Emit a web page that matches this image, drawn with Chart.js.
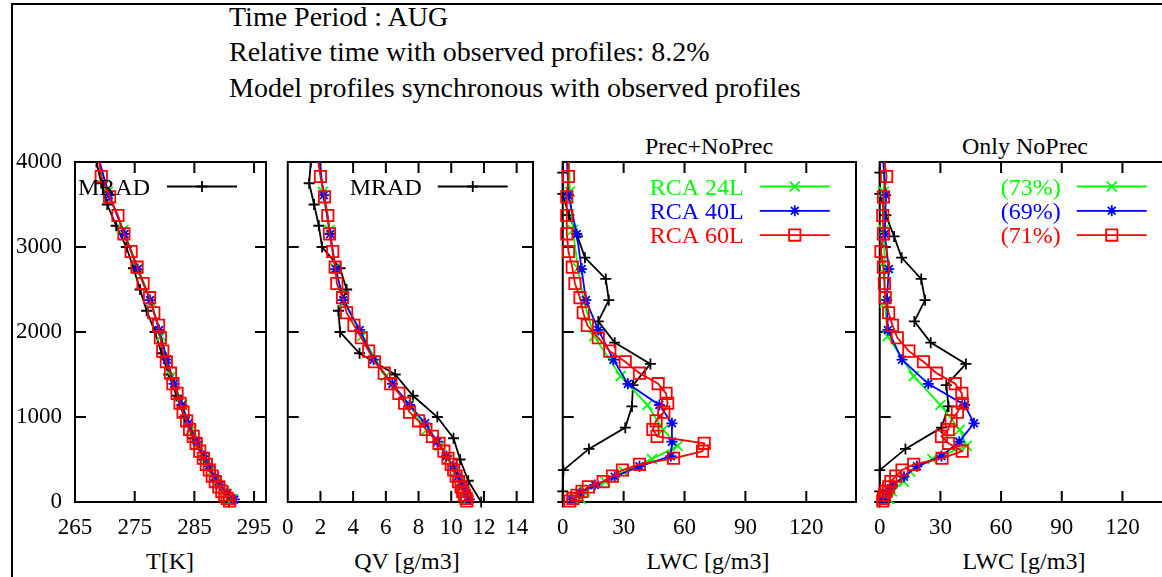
<!DOCTYPE html>
<html>
<head>
<meta charset="utf-8">
<title>Profiles AUG</title>
<script src="https://cdn.jsdelivr.net/npm/chart.js@4.4.1/dist/chart.umd.min.js"></script>
<style>
  body { margin: 0; width: 1162px; height: 577px; overflow: hidden; position: relative; background: #fff;
         font-family: "Liberation Serif", "Times New Roman", serif; color: #000; }
  #frame { position: absolute; left: 11px; top: 3px; width: 1200px; height: 620px;
           border-left: 2px solid #000; border-top: 2px solid #000; }
  .txt { position: absolute; white-space: nowrap; line-height: 1; }
  .hdr { left: 229px; font-size: 28px; }
  .ptitle, .xtitle { font-size: 24px; width: 300px; text-align: center; }
  canvas { position: absolute; top: 0; }
</style>
</head>
<body>
<div id="frame"></div>
<div class="txt hdr" style="top:3px">Time Period : AUG</div>
<div class="txt hdr" style="top:38px">Relative time with observed profiles: 8.2%</div>
<div class="txt hdr" style="top:74px">Model profiles synchronous with observed profiles</div>
<div class="txt ptitle" style="left:559px;top:134px">Prec+NoPrec</div>
<div class="txt ptitle" style="left:875px;top:134px">Only NoPrec</div>
<div class="txt xtitle" style="left:20px;top:549px">T[K]</div>
<div class="txt xtitle" style="left:257px;top:549px">QV [g/m3]</div>
<div class="txt xtitle" style="left:558px;top:549px">LWC [g/m3]</div>
<div class="txt xtitle" style="left:874px;top:549px">LWC [g/m3]</div>

<canvas id="p1" width="290" height="577" style="left:0px"></canvas>
<canvas id="p2" width="275" height="577" style="left:270px"></canvas>
<canvas id="p3" width="330" height="577" style="left:545px"></canvas>
<canvas id="p4" width="330" height="577" style="left:862px"></canvas>

<script>
// heights of the profile levels (m)
const mradHeights = [4000, 3750, 3500, 3250, 3000, 2750, 2500, 2250, 2000, 1750, 1500, 1250, 1000, 750, 500, 250, 0];
const mradLwcHeights = [4125, 3875, 3625, 3375, 3125, 2875, 2625, 2375, 2125, 1875, 1625, 1375, 1125, 875, 625, 375, 125, 0];
const rca24Heights = [4150, 3650, 3200, 2750, 2350, 1950, 1480, 1141, 850, 660, 505, 357, 239, 125, 35];
const rca40Heights = [4060, 3610, 3153, 2740, 2376, 2024, 1675, 1390, 1141, 926, 710, 540, 420, 298, 200, 105, 30];
const rca60Heights = [4080, 3830, 3590, 3370, 3155, 2947, 2763, 2571, 2404, 2227, 2078, 1932, 1775, 1650, 1516, 1392, 1278,
                      1161, 1057, 955, 853, 772, 690, 598, 514, 443, 376, 305, 240, 178, 125, 80, 42, 12];

// temperature T[K]
const mradT = [268.6, 269.4, 270.4, 271.9, 273.6, 274.8, 275.9, 277.0, 278.4, 279.5, 280.7, 282.0, 283.3, 284.8, 286.6, 288.6, 290.8];
const rca24T = [268.4, 270.5, 273.1, 275.6, 277.8, 279.4, 281.2, 283.0, 284.5, 285.6, 286.7, 287.8, 288.8, 290.0, 291.4];
const rca40T = [268.9, 270.7, 273.3, 275.5, 277.6, 279.1, 280.4, 281.6, 282.9, 284.0, 285.4, 286.6, 287.4, 288.4, 289.3, 290.5, 291.7];
const rca60T = [268.9, 269.4, 270.8, 272.2, 273.2, 274.4, 275.4, 276.4, 277.5, 278.2, 279.0, 279.3, 279.7, 280.3, 281.0, 281.4, 282.1,
                282.6, 283.1, 283.7, 284.2, 284.8, 285.3, 285.9, 286.5, 287.0, 287.5, 288.0, 288.5, 289.1, 289.6, 290.1, 290.5, 290.9];

// specific humidity QV [g/m3]
const mradQV = [1.41, 1.31, 1.61, 1.90, 2.10, 3.20, 3.60, 3.10, 3.20, 4.39, 6.57, 7.66, 9.15, 10.14, 10.54, 11.04, 11.83];
const rca24QV = [1.8, 2.15, 2.55, 2.9, 3.45, 4.55, 6.0, 7.4, 8.5, 9.3, 9.8, 10.25, 10.55, 10.85, 11.05];
const rca40QV = [1.9, 2.2, 2.6, 2.93, 3.4, 4.4, 5.25, 6.4, 7.45, 8.4, 9.15, 9.7, 10.1, 10.4, 10.7, 10.95, 11.1];
const rca60QV = [1.8, 2.0, 2.25, 2.45, 2.55, 2.75, 2.9, 3.0, 3.35, 3.6, 4.05, 4.5, 4.95, 5.3, 5.9, 6.3, 6.8,
                 7.15, 7.45, 8.0, 8.45, 8.85, 9.25, 9.55, 9.8, 10.0, 10.15, 10.3, 10.45, 10.6, 10.7, 10.8, 10.9, 10.95];

// liquid water content, precipitating + non precipitating cases
const mradLwcAll = [0, 0, 0, 3, 7.3, 10.9, 21.2, 22.7, 17.5, 25.6, 43.2, 34.6, 34.1, 30.8, 12.9, 0.3, 0, 0];
const rca24LwcAll = [3, 3.5, 5, 7.5, 10.5, 15.5, 28.5, 41.7, 49.5, 56.6, 44, 30, 21, 11, 9];
const rca40LwcAll = [2, 2.8, 6.9, 9.3, 11.4, 17.5, 25, 32.1, 47.6, 53.8, 53.8, 53.3, 37.8, 25.6, 15.8, 8.5, 4.4];
const rca60LwcAll = [3, 2.8, 2.0, 2.0, 2.0, 2.8, 4.7, 6.0, 8.5, 10.1, 12.1, 17.5, 23.2, 30.8, 37.8, 47.0, 50.9,
                     51.7, 49.8, 46.0, 44.4, 46.5, 69.7, 68.9, 54.6, 37.8, 29.4, 24.5, 19.9, 12.6, 9.5, 7.0, 5.0, 3.5];

// liquid water content, only non precipitating cases
const mradLwcNoPrec = [0, 0, 0, 3, 7.1, 10.8, 20.5, 22.4, 17.1, 25.2, 42.6, 32.9, 34.0, 30.5, 12.7, 0, 0, 0];
const rca24LwcNoPrec = [2, 2, 2, 2.5, 2.5, 3.9, 16.8, 30, 39.5, 43, 26, 15, 11.9, 6, 4.5];
const rca40LwcNoPrec = [1.5, 3, 2.5, 4.5, 3.5, 4, 11, 24, 42, 46.6, 39.3, 30.5, 18.4, 12, 6.3, 3.1, 1.6];
const rca60LwcNoPrec = [2, 3.4, 1.8, 1.5, 1.8, 0.6, 1.8, 2.3, 2.7, 4.4, 6.3, 8.7, 14.4, 21.6, 28.1, 37.3, 40.6,
                        40.8, 38.4, 35.3, 33.9, 30.5, 34.0, 40.8, 30.8, 16.8, 11.0, 7.9, 5.5, 4.4, 3.1, 2.3, 1.8, 1.5];

// tick labels
const heightTicks = [0, 1000, 2000, 3000, 4000];
const tTicks = [265, 275, 285, 295];
const qvTicks = [0, 2, 4, 6, 8, 10, 12, 14];
const lwcTicks = [0, 30, 60, 90, 120];

// legend texts
const allLabels = ['RCA 24L', 'RCA 40L', 'RCA 60L'];
const noPrecLabels = ['(73%)', '(69%)', '(71%)'];

Chart.defaults.font.family = '"Liberation Serif", "Times New Roman", serif';
Chart.defaults.color = '#000';

const seriesStyle = {
    mrad: { color: '#000000', pointStyle: 'cross', pointRadius: 5.5 },
    rca24: { color: '#00ff00', pointStyle: 'crossRot', pointRadius: 7 },
    rca40: { color: '#0000ff', pointStyle: 'star', pointRadius: 5.5 },
    rca60: { color: '#ff0000', pointStyle: 'rect', pointRadius: 8 }
};

const TICK = 11;
const LINE_W = 1.8;

// Build a vertical profile dataset (x = quantity, y = height)
function profile(key, values, heights) {
    const st = seriesStyle[key];
    return {
        label: key,
        data: heights.map((h, i) => ({ x: values[i], y: h })),
        showLine: true,
        fill: false,
        tension: 0,
        borderColor: st.color,
        borderWidth: LINE_W,
        pointStyle: st.pointStyle,
        pointRadius: st.pointRadius,
        pointHoverRadius: st.pointRadius,
        pointBorderColor: st.color,
        pointBorderWidth: LINE_W,
        pointBackgroundColor: 'rgba(0,0,0,0)',
        clip: { left: 8, top: 0, right: 0, bottom: 8 }
    };
}

function drawMark(ctx, style, x, y, r) {
    const d = r * Math.SQRT1_2;
    ctx.beginPath();
    if (style === 'cross' || style === 'star') {
        ctx.moveTo(x - r, y); ctx.lineTo(x + r, y);
        ctx.moveTo(x, y - r); ctx.lineTo(x, y + r);
    }
    if (style === 'crossRot' || style === 'star') {
        ctx.moveTo(x - d, y - d); ctx.lineTo(x + d, y + d);
        ctx.moveTo(x - d, y + d); ctx.lineTo(x + d, y - d);
    }
    if (style === 'rect') {
        ctx.rect(x - d, y - d, 2 * d, 2 * d);
    }
    ctx.stroke();
}

// gnuplot-like border with inward ticks on all four sides
const frameTicks = {
    id: 'frameTicks',
    beforeDatasetsDraw(chart) {
        const { ctx, chartArea: a, scales } = chart;
        ctx.save();
        ctx.strokeStyle = '#000';
        ctx.lineWidth = 2;
        ctx.beginPath();
        scales.x.ticks.forEach(t => {
            const p = scales.x.getPixelForValue(t.value);
            ctx.moveTo(p, a.bottom); ctx.lineTo(p, a.bottom - TICK);
            ctx.moveTo(p, a.top); ctx.lineTo(p, a.top + TICK);
        });
        scales.y.ticks.forEach(t => {
            const p = scales.y.getPixelForValue(t.value);
            ctx.moveTo(a.left, p); ctx.lineTo(a.left + TICK, p);
            ctx.moveTo(a.right, p); ctx.lineTo(a.right - TICK, p);
        });
        ctx.rect(a.left, a.top, a.right - a.left, a.bottom - a.top);
        ctx.stroke();
        ctx.restore();
    }
};

// legend drawn inside the plot: text, then a line sample with its marker
function makeLegend(entries, layout) {
    return {
        id: 'profileLegend',
        afterDatasetsDraw(chart) {
            const { ctx, chartArea: a } = chart;
            ctx.save();
            ctx.font = '24px "Liberation Serif", serif';
            ctx.textBaseline = 'alphabetic';
            ctx.textAlign = layout.align;
            entries.forEach((e, i) => {
                const st = seriesStyle[e.key];
                const y = a.top + layout.y0 + i * layout.dy;
                ctx.fillStyle = layout.colored ? st.color : '#000';
                ctx.fillText(e.text, a.left + layout.textX, y + 8);
                ctx.strokeStyle = st.color;
                ctx.lineWidth = LINE_W;
                ctx.beginPath();
                ctx.moveTo(a.left + layout.x0, y);
                ctx.lineTo(a.left + layout.x1, y);
                ctx.stroke();
                drawMark(ctx, st.pointStyle, a.left + (layout.x0 + layout.x1) / 2, y, st.pointRadius);
            });
            ctx.restore();
        }
    };
}

function makePanel(cfg) {
    const canvas = document.getElementById(cfg.id);
    const areaLeftInCanvas = cfg.areaLeft - cfg.left;
    const rightPad = canvas.width - (cfg.areaRight - cfg.left);
    return new Chart(canvas, {
        type: 'scatter',
        data: { datasets: cfg.datasets },
        options: {
            responsive: false,
            animation: false,
            events: [],
            layout: { padding: { top: 162, bottom: 0, left: 0, right: rightPad } },
            plugins: { legend: { display: false }, tooltip: { enabled: false } },
            scales: {
                x: {
                    type: 'linear',
                    min: cfg.xMin,
                    max: cfg.xMax,
                    grid: { display: false, drawTicks: false },
                    border: { display: false },
                    afterBuildTicks: s => { s.ticks = cfg.xTicks.map(v => ({ value: v })); },
                    afterFit: s => { s.height = 75; },
                    ticks: {
                        autoSkip: false, maxRotation: 0, padding: 12,
                        font: { size: 23 }, color: '#000',
                        callback: v => String(v)
                    }
                },
                y: {
                    type: 'linear',
                    min: 0,
                    max: 4000,
                    grid: { display: false, drawTicks: false },
                    border: { display: false },
                    afterBuildTicks: s => { s.ticks = heightTicks.map(v => ({ value: v })); },
                    afterFit: s => { s.width = areaLeftInCanvas; },
                    ticks: {
                        display: cfg.showY, autoSkip: false, padding: 13,
                        font: { size: 23 }, color: '#000',
                        callback: v => String(v)
                    }
                }
            }
        },
        plugins: [frameTicks, makeLegend(cfg.legend, cfg.legendLayout)]
    });
}

const mradLegendLeft = { align: 'left', textX: 3, x0: 92, x1: 162, y0: 24.5, dy: 24.3, colored: false };
const mradLegendMid = { align: 'left', textX: 62, x0: 150, x1: 220, y0: 24.5, dy: 24.3, colored: false };
const rcaLegend = { align: 'right', textX: 181, x0: 197, x1: 267, y0: 24.5, dy: 24.3, colored: true };
const rcaKeys = ['rca24', 'rca40', 'rca60'];

makePanel({
    id: 'p1', left: 0, areaLeft: 75, areaRight: 266,
    xMin: 265, xMax: 297, xTicks: tTicks, showY: true,
    datasets: [
        profile('rca60', rca60T, rca60Heights),
        profile('rca40', rca40T, rca40Heights),
        profile('rca24', rca24T, rca24Heights),
        profile('mrad', mradT, mradHeights)
    ],
    legend: [{ key: 'mrad', text: 'MRAD' }],
    legendLayout: mradLegendLeft
});

makePanel({
    id: 'p2', left: 270, areaLeft: 282, areaRight: 533,
    xMin: 0, xMax: 15, xTicks: qvTicks, showY: false,
    datasets: [
        profile('rca60', rca60QV, rca60Heights),
        profile('rca40', rca40QV, rca40Heights),
        profile('rca24', rca24QV, rca24Heights),
        profile('mrad', mradQV, mradHeights)
    ],
    legend: [{ key: 'mrad', text: 'MRAD' }],
    legendLayout: mradLegendMid
});

makePanel({
    id: 'p3', left: 545, areaLeft: 561, areaRight: 856,
    xMin: 0, xMax: 144.5, xTicks: lwcTicks, showY: false,
    datasets: [
        profile('rca60', rca60LwcAll, rca60Heights),
        profile('rca40', rca40LwcAll, rca40Heights),
        profile('rca24', rca24LwcAll, rca24Heights),
        profile('mrad', mradLwcAll, mradLwcHeights)
    ],
    legend: rcaKeys.map((k, i) => ({ key: k, text: allLabels[i] })),
    legendLayout: rcaLegend
});

makePanel({
    id: 'p4', left: 862, areaLeft: 877, areaRight: 1175,
    xMin: 0, xMax: 146, xTicks: lwcTicks, showY: false,
    datasets: [
        profile('rca60', rca60LwcNoPrec, rca60Heights),
        profile('rca40', rca40LwcNoPrec, rca40Heights),
        profile('rca24', rca24LwcNoPrec, rca24Heights),
        profile('mrad', mradLwcNoPrec, mradLwcHeights)
    ],
    legend: rcaKeys.map((k, i) => ({ key: k, text: noPrecLabels[i] })),
    legendLayout: rcaLegend
});
</script>
</body>
</html>
